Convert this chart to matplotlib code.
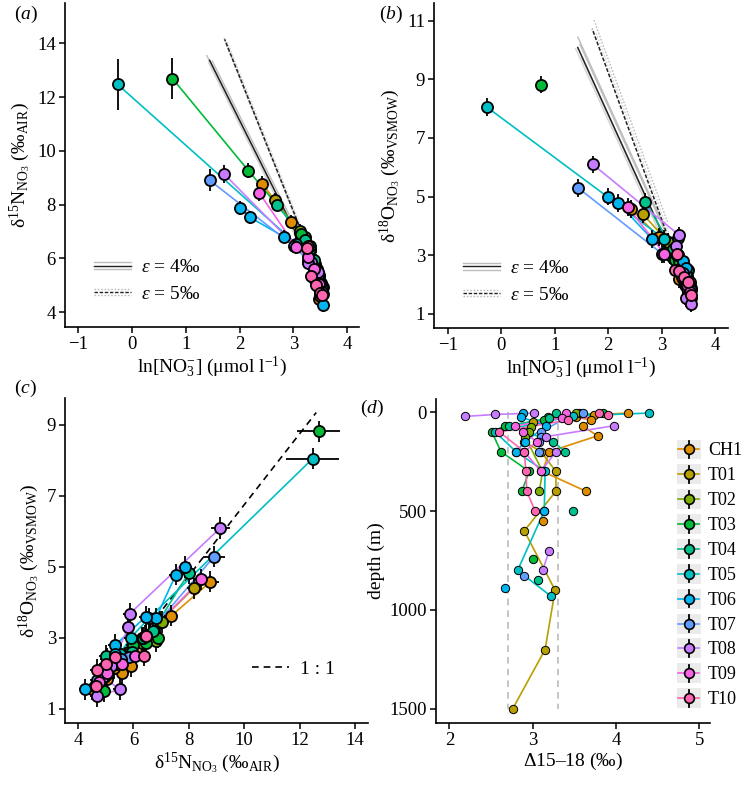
import numpy as np
import matplotlib
matplotlib.use("Agg")
import matplotlib.pyplot as plt
from matplotlib.lines import Line2D
from matplotlib.patches import Rectangle
from matplotlib.legend_handler import HandlerBase

plt.rcParams["font.family"] = ["Liberation Serif", "DejaVu Serif"]
plt.rcParams["mathtext.fontset"] = "custom"
plt.rcParams["mathtext.rm"] = "Liberation Serif"
plt.rcParams["mathtext.it"] = "Liberation Serif:italic"
plt.rcParams["mathtext.bf"] = "Liberation Serif:bold"

nan = np.nan

# ---------------- data ----------------
stations = ["CH1", "T01", "T02", "T03", "T04", "T05", "T06", "T07", "T08", "T09", "T10"]
colors = ["#DE8C00", "#B79F00", "#7CAE00", "#00BA38", "#00C08B", "#00BFC4",
          "#00B4F0", "#619CFF", "#C77CFF", "#F564E3", "#FF64B0"]

# panels a-c : one list per station, ordered by depth
ln_no3 = [
    [2.42, 2.95, 3.20, 3.33, 3.43, 3.48, 3.52, 3.50, 3.47],
    [2.65, 3.12, 3.30, 3.40, 3.48, 3.52, 3.55, 3.53, 3.50],
    [3.12, 3.22, 3.30, 3.38, 3.46, 3.52],
    [0.75, 2.16, 3.15, 3.25, 3.33, 3.40, 3.45, 3.50],
    [2.69, 3.22, 3.30, 3.38, 3.45, 3.50],
    [-0.27, 3.05, 3.28, 3.38, 3.45, 3.50, 3.53],
    [2.00, 2.19, 2.82, 3.30, 3.40, 3.45, 3.55],
    [1.44, 3.01, 3.30, 3.40, 3.48, 3.54],
    [1.71, 3.33, 3.27, 3.40, 3.48, 3.45, 3.55],
    [2.36, 3.05, 3.28, 3.38, 3.47, 3.53],
    [3.28, 3.25, 3.32, 3.42, 3.50, 3.54],
]
d15n = [
    [8.78, 7.37, 6.60, 5.90, 5.60, 5.30, 5.05, 4.80, 4.50],
    [8.18, 6.95, 6.30, 5.80, 5.40, 5.10, 4.95, 4.75, 4.60],
    [7.03, 6.80, 6.30, 5.80, 5.40, 5.00],
    [12.69, 9.27, 6.90, 6.45, 6.00, 5.50, 5.05, 4.95],
    [8.00, 6.70, 6.35, 5.95, 5.45, 5.00],
    [12.47, 6.55, 5.90, 5.50, 5.30, 5.05, 4.85],
    [7.88, 7.53, 6.81, 6.45, 5.35, 5.35, 4.27],
    [8.91, 6.46, 5.85, 5.55, 5.10, 4.70],
    [9.14, 5.87, 5.82, 5.20, 4.90, 5.50, 4.68],
    [8.45, 6.43, 6.05, 5.60, 5.05, 4.75],
    [6.45, 6.40, 5.35, 5.00, 4.70, 4.65],
]
d18o = [
    [4.58, 3.62, 3.10, 2.20, 2.00, 2.15, 1.85, 1.75, 1.55],
    [4.40, 3.45, 3.00, 2.60, 2.30, 2.10, 1.90, 1.80, 1.65],
    [3.45, 2.90, 2.85, 2.55, 2.25, 1.95],
    [8.82, nan, 3.00, 2.85, 2.80, 2.55, 2.40, 1.50],
    [4.83, 3.20, 3.00, 2.60, 2.35, 2.50],
    [8.05, 3.55, 3.00, 2.55, 2.35, 2.05, 1.85],
    [5.00, 4.78, 3.55, 3.60, 2.80, 2.55, 1.55],
    [5.29, 3.05, 2.45, 2.40, 2.10, 1.80],
    [6.10, 3.68, 3.30, 2.20, 1.90, 1.55, 1.35],
    [4.65, 3.05, 2.50, 2.25, 2.00, 1.75],
    [3.05, 2.50, 2.45, 2.25, 2.10, 1.65],
]
sd15n = [
    [0.30, 0.25, 0.25, 0.25, 0.25, 0.25, 0.25, 0.25, 0.25],
    [0.25, 0.25, 0.25, 0.25, 0.25, 0.25, 0.25, 0.25, 0.25],
    [0.25, 0.25, 0.25, 0.25, 0.25, 0.25],
    [0.77, 0.28, 0.25, 0.25, 0.25, 0.25, 0.25, 0.25],
    [0.25, 0.25, 0.25, 0.25, 0.25, 0.25],
    [0.95, 0.25, 0.25, 0.25, 0.25, 0.25, 0.25],
    [0.25, 0.25, 0.25, 0.25, 0.25, 0.25, 0.25],
    [0.40, 0.25, 0.25, 0.25, 0.25, 0.25],
    [0.35, 0.25, 0.25, 0.25, 0.25, 0.25, 0.25],
    [0.30, 0.25, 0.25, 0.25, 0.25, 0.25],
    [0.25, 0.25, 0.25, 0.25, 0.25, 0.25],
]
sd18o = [
    [0.30, 0.30, 0.30, 0.30, 0.30, 0.30, 0.30, 0.30, 0.30],
    [0.30, 0.30, 0.30, 0.30, 0.30, 0.30, 0.30, 0.30, 0.30],
    [0.30, 0.30, 0.30, 0.30, 0.30, 0.30],
    [0.30, nan, 0.30, 0.30, 0.30, 0.30, 0.30, 0.30],
    [0.30, 0.30, 0.30, 0.30, 0.30, 0.30],
    [0.30, 0.30, 0.30, 0.30, 0.30, 0.30, 0.30],
    [0.30, 0.30, 0.30, 0.30, 0.30, 0.30, 0.30],
    [0.30, 0.30, 0.30, 0.30, 0.30, 0.30],
    [0.30, 0.30, 0.30, 0.30, 0.30, 0.30, 0.30],
    [0.30, 0.30, 0.30, 0.30, 0.30, 0.30],
    [0.30, 0.30, 0.30, 0.30, 0.30, 0.30],
]

# panel d : depth profiles of delta(15-18)
depth_m = [
    [5, 13, 25, 40, 70, 120, 200, 300, 400, 500, 550],
    [5, 50, 100, 150, 200, 300, 400, 600, 900, 1200, 1500],
    [5, 40, 75, 100, 125, 300, 400],
    [5, 25, 40, 70, 100, 200, 300, 400, 500, 740],
    [5, 30, 70, 150, 200, 300, 500, 700, 850],
    [5, 20, 100, 200, 300, 500, 800, 930],
    [5, 25, 70, 150, 200, 300, 500, 600, 890],
    [5, 30, 100, 125, 150, 200, 500, 830],
    [5, 12, 22, 50, 69, 124, 200, 300, 500, 700, 800],
    [5, 30, 70, 100, 150, 200, 300],
    [5, 15, 40, 100, 200, 300, 400, 500],
]
delta_15_18 = [
    [4.15, 3.74, 3.52, 3.70, 3.60, 3.78, 3.20, 3.12, 3.64, nan, 3.12],
    [3.56, 3.00, 2.94, 2.90, 3.10, 3.28, 3.28, 2.90, 3.27, 3.15, 2.76],
    [3.52, 3.15, 2.98, 2.96, 2.91, 3.12, 3.08],
    [3.84, 3.18, 3.14, 2.67, 2.51, 2.62, 2.96, 2.87, nan, 3.00],
    [3.28, 3.20, 2.72, 3.25, 3.39, nan, 3.48, nan, 3.06],
    [4.40, 3.49, 2.55, 2.80, 3.15, 3.14, 2.82, 3.22],
    [2.88, 2.86, 3.16, 2.91, 2.80, nan, 3.14, nan, 2.67],
    [3.60, 3.40, 3.10, 3.10, 3.08, 3.08, nan, 2.90],
    [3.02, 2.55, 2.19, nan, 3.98, 3.16, 3.28, 3.10, nan, 3.20, 3.12],
    [3.40, 3.35, 2.79, 2.89, 3.05, 2.90, 3.10],
    [3.80, 3.91, 3.43, 2.60, 2.90, 2.92, 2.93, 3.03],
]
delta_ref_lines = [2.7, 3.3]

# Rayleigh model lines: start points (ln NO3, delta) ; first = mean (black)
eps_values = [4, 5]
ray_span = [1.61, 1.38]
ray_a_ln0 = [[3.05, 3.00, 3.08, 3.10, 3.03], [3.10, 3.12, 3.14, 3.08]]
ray_a_d0 = [[6.93, 7.10, 6.70, 6.90, 6.85], [7.25, 7.10, 7.20, 7.35]]
ray_b_ln0 = [[3.04, 3.04, 3.11, 3.08, 3.00], [3.08, 3.11, 3.15]]
ray_b_d0 = [[3.64, 4.00, 3.30, 3.75, 3.60], [3.82, 4.13, 3.68]]

one_to_one_x = [5.0, 12.6]
one_to_one_offset = -3.25

# ---------------- figure ----------------
W, H = 744, 790
fig = plt.figure(figsize=(W / 100, H / 100), dpi=100)


def px_axes(l, r, b, t):
    return fig.add_axes([l / W, 1 - b / H, (r - l) / W, (b - t) / H])


axa = px_axes(65, 359, 327, 3)
axb = px_axes(434, 728, 328, 3)
axc = px_axes(65, 368, 723, 398)
axd = px_axes(436, 710, 723, 399)

FS = 13.5
LFS = 14


def style(ax):
    for s in ["top", "right"]:
        ax.spines[s].set_visible(False)
    for s in ["left", "bottom"]:
        ax.spines[s].set_linewidth(1.2)
    ax.tick_params(direction="out", length=4, width=1.1, labelsize=FS, colors="black", pad=2.5)


MS = 8
MEW = 1.3


def draw_iso(ax, xs, ys, xerrs=None, yerrs=None):
    for k in range(len(stations)):
        ax.plot(xs[k], ys[k], "-", color=colors[k], lw=1.2, zorder=2)
    for k in range(len(stations)):
        ax.errorbar(xs[k], ys[k],
                    xerr=None if xerrs is None else xerrs[k],
                    yerr=None if yerrs is None else yerrs[k],
                    fmt="none", ecolor="black", elinewidth=1.3, capsize=0, zorder=3)
    for k in range(len(stations)):
        ax.plot(xs[k], ys[k], "o", ls="none", ms=MS, mfc=colors[k], mec="black", mew=MEW, zorder=4)


def draw_rayleigh(ax, ln0s, d0s):
    for e_i, eps in enumerate(eps_values):
        span = ray_span[e_i]
        ls_main = "-" if eps == 4 else (0, (2.5, 1.2))
        ls_grey = "-" if eps == 4 else (0, (1.2, 1.2))
        for j, (l0, d0) in enumerate(zip(ln0s[e_i], d0s[e_i])):
            col = "#222222" if j == 0 else ("#BDBDBD" if j % 2 else "#D5D5D5")
            ax.plot([l0, l0 - span], [d0, d0 + eps * span], color=col,
                    lw=1.1 if j == 0 else 1.0, ls=ls_main if j == 0 else ls_grey,
                    zorder=1.5 if j == 0 else 1)


class MultiLineHandle:
    def __init__(self, specs):
        self.specs = specs


class HandlerMulti(HandlerBase):
    def create_artists(self, legend, orig_handle, xd, yd, w, h, fs, trans):
        arts = []
        cy = -yd + h / 2
        for col, ls, dy in orig_handle.specs:
            arts.append(Line2D([-xd, -xd + w], [cy + dy, cy + dy], color=col, ls=ls, lw=1.0,
                               transform=trans))
        return arts


class HandlerKey(HandlerBase):
    def create_artists(self, legend, orig_handle, xd, yd, w, h, fs, trans):
        col = orig_handle.get_color()
        rect = Rectangle((-xd, -yd), w, h, facecolor="#EBEBEB", edgecolor="none", transform=trans)
        cx, cy = -xd + w / 2, -yd + h / 2
        hl = Line2D([-xd + 1, -xd + w - 1], [cy, cy], color=col, lw=1.2, transform=trans)
        vl = Line2D([cx, cx], [-yd + 1, -yd + h - 1], color="black", lw=1.3, transform=trans)
        pt = Line2D([cx], [cy], marker="o", ms=7, mfc=col, mec="black", mew=1.2, ls="none",
                    transform=trans)
        return [rect, hl, vl, pt]


def eps_legend(ax):
    h4 = MultiLineHandle([("#BDBDBD", "-", 2.2), ("#222222", "-", 0.0), ("#BDBDBD", "-", -2.2)])
    h5 = MultiLineHandle([("#BDBDBD", (0, (1.2, 1.2)), 2.2), ("#222222", (0, (2.5, 1.2)), 0.0),
                          ("#BDBDBD", (0, (1.2, 1.2)), -2.2)])
    leg = ax.legend([h4, h5], [r"$\varepsilon$ = 4$\mathit{‰}$", r"$\varepsilon$ = 5$\mathit{‰}$"],
                    handler_map={MultiLineHandle: HandlerMulti()},
                    loc="lower left", bbox_to_anchor=(0.065, 0.045), frameon=False, fontsize=LFS,
                    handlelength=1.9, handletextpad=0.55, labelspacing=0.45, borderpad=0)
    return leg


NO3_LABEL = r"ln[NO$_3^{-}$] (μmol l$^{-1}$)"
D15_LABEL = r"δ$^{15}$N$_{\mathrm{NO_3}}$ ($\mathit{‰}_{\mathrm{AIR}}$)"
D18_LABEL = r"δ$^{18}$O$_{\mathrm{NO_3}}$ ($\mathit{‰}_{\mathrm{VSMOW}}$)"

# ---- panel a ----
style(axa)
draw_rayleigh(axa, ray_a_ln0, ray_a_d0)
draw_iso(axa, ln_no3, d15n, yerrs=sd15n)
axa.set_xlim(-1.25, 4.22)
axa.set_ylim(3.45, 15.5)
axa.set_xticks([-1, 0, 1, 2, 3, 4])
axa.set_xticklabels(["\u22121", "0", "1", "2", "3", "4"])
axa.set_yticks([4, 6, 8, 10, 12, 14])
axa.set_xlabel(NO3_LABEL, fontsize=LFS, labelpad=1)
axa.set_ylabel(D15_LABEL, fontsize=LFS, labelpad=3)
eps_legend(axa)

# ---- panel b ----
style(axb)
draw_rayleigh(axb, ray_b_ln0, ray_b_d0)
draw_iso(axb, ln_no3, d18o, yerrs=sd18o)
axb.set_xlim(-1.26, 4.24)
axb.set_ylim(0.52, 11.6)
axb.set_xticks([-1, 0, 1, 2, 3, 4])
axb.set_xticklabels(["\u22121", "0", "1", "2", "3", "4"])
axb.set_yticks([1, 3, 5, 7, 9, 11])
axb.set_xlabel(NO3_LABEL, fontsize=LFS, labelpad=1)
axb.set_ylabel(D18_LABEL, fontsize=LFS, labelpad=3)
eps_legend(axb)

# ---- panel c ----
style(axc)
xx = np.array(one_to_one_x)
axc.plot(xx, xx + one_to_one_offset, color="black", lw=1.2, ls=(0, (4, 3)), zorder=1.5,
         label="1 : 1")
draw_iso(axc, d15n, d18o, xerrs=sd15n, yerrs=sd18o)
axc.set_xlim(3.53, 14.47)
axc.set_ylim(0.6, 9.76)
axc.set_xticks([4, 6, 8, 10, 12, 14])
axc.set_yticks([1, 3, 5, 7, 9])
axc.set_xlabel(D15_LABEL, fontsize=LFS, labelpad=1)
axc.set_ylabel(D18_LABEL, fontsize=LFS, labelpad=3)
axc.legend(loc="lower left", bbox_to_anchor=(0.585, 0.11), frameon=False, fontsize=LFS,
           handlelength=1.9, handletextpad=0.55, borderpad=0)

# ---- panel d ----
style(axd)
for xv in delta_ref_lines:
    axd.plot([xv, xv], [0, 1500], color="#BBBBBB", lw=1.2, ls=(0, (4, 3)), zorder=1)
handles = []
for k in range(len(stations)):
    ln, = axd.plot(delta_15_18[k], depth_m[k], "-", color=colors[k], lw=1.2, zorder=2)
    handles.append(ln)
for k in range(len(stations)):
    axd.plot(delta_15_18[k], depth_m[k], "o", ls="none", ms=6, mfc=colors[k], mec="black",
             mew=0.7, zorder=3)
axd.set_xlim(1.84, 5.13)
axd.set_ylim(1571, -66)
axd.set_xticks([2, 3, 4, 5])
axd.set_yticks([0, 500, 1000, 1500])
axd.set_xlabel(r"Δ15–18 ($\mathit{‰}$)", fontsize=LFS, labelpad=1)
axd.set_ylabel("depth (m)", fontsize=LFS, labelpad=3)

fig.legend(handles, stations, handler_map={Line2D: HandlerKey()},
           loc="upper left", bbox_to_anchor=(677 / W, 1 - 439.5 / H), frameon=False,
           fontsize=13, handlelength=1.32, handleheight=1.32, handletextpad=0.4,
           labelspacing=0.27, borderpad=0, borderaxespad=0)

# panel tags
for tag, (x, y) in zip("abcd", [(14, 14), (379, 14), (14, 388), (360, 408)]):
    fig.text(x / W, 1 - y / H, "(" + r"$\mathit{" + tag + "}$" + ")", fontsize=LFS,
             ha="left", va="center")

fig.savefig("out.png", dpi=100)
